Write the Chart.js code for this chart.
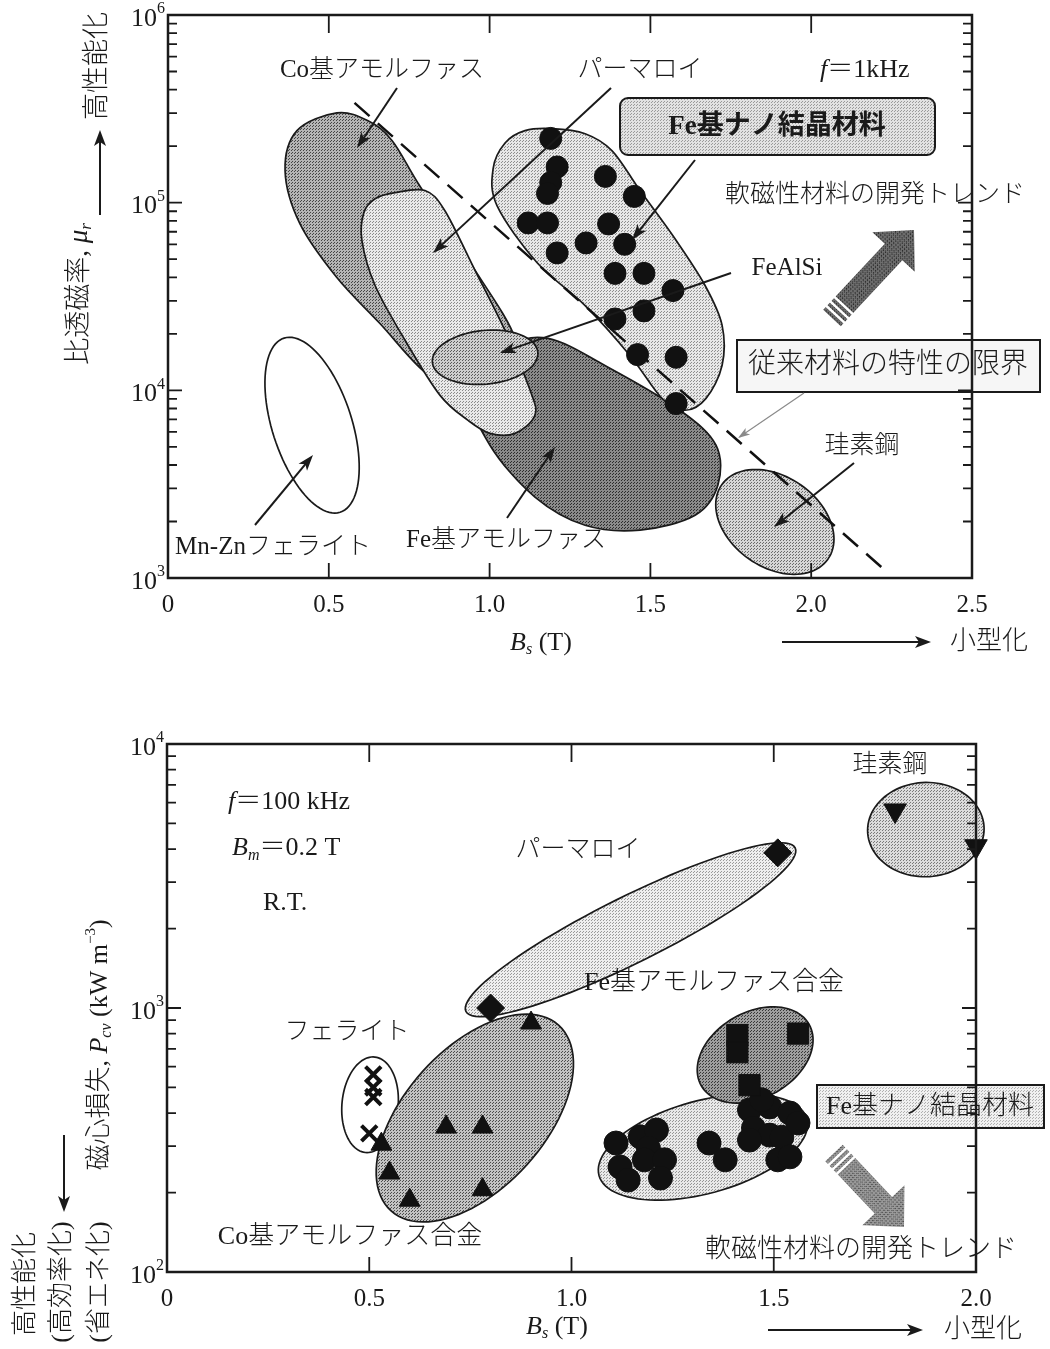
<!DOCTYPE html>
<html lang="ja">
<head>
<meta charset="utf-8">
<title>軟磁性材料の比透磁率と磁心損失</title>
<script src="https://cdn.jsdelivr.net/npm/chart.js@4.4.1/dist/chart.umd.min.js"></script>
<style>
  html, body { margin: 0; padding: 0; background: #fff; }
  #wrap { position: relative; width: 1050px; height: 1349px; overflow: hidden; }
  canvas { position: absolute; left: 0; }
</style>
</head>
<body>
<div id="wrap">
  <canvas id="permChart" width="1050" height="680" style="top:0"></canvas>
  <canvas id="lossChart" width="1050" height="669" style="top:680px"></canvas>
</div>
<script>
// ---- upper chart: Bs vs relative permeability, f = 1 kHz
const permXTicks = [0, 0.5, 1.0, 1.5, 2.0, 2.5];
const permYExponents = [3, 4, 5, 6];

// Fe-based nanocrystalline samples (filled circles)
const nanoBs = [1.19, 1.21, 1.19, 1.18, 1.36, 1.45, 1.12, 1.18, 1.37, 1.30, 1.21, 1.42, 1.39, 1.48, 1.57, 1.48, 1.39, 1.46, 1.58, 1.58];
const nanoMu = [2.2e5, 1.55e5, 1.28e5, 1.12e5, 1.38e5, 1.08e5, 7.8e4, 7.8e4, 7.7e4, 6.1e4, 5.4e4, 6.0e4, 4.2e4, 4.2e4, 3.4e4, 2.65e4, 2.4e4, 1.55e4, 1.5e4, 8.5e3];

// dashed line = limit of conventional materials
const limitBs = [0.58, 2.24];
const limitMu = [3.4e5, 1.06e3];

// material areas, outline points as [Bs, mu]
const coAmorArea = [[0.525, 3.01e5], [0.622, 2.73e5], [0.697, 2.14e5], [0.784, 1.22e5], [0.939, 4.8e4], [1.079, 1.89e4], [1.048, 1.2e4], [0.908, 1.06e4], [0.799, 1.25e4], [0.659, 2.27e4], [0.525, 3.99e4], [0.410, 7.73e4], [0.364, 1.48e5], [0.401, 2.42e5]];
const permalloyArea = [[0.706, 1.13e5], [0.799, 1.16e5], [0.861, 9.06e4], [0.955, 4.35e4], [1.048, 2.08e4], [1.126, 1.0e4], [1.141, 7.36e3], [1.079, 5.9e3], [1.001, 5.9e3], [0.933, 6.92e3], [0.846, 9.4e3], [0.737, 1.85e4], [0.644, 3.62e4], [0.603, 6.28e4], [0.609, 8.85e4], [0.644, 1.05e5]];
const feAmorArea = [[0.939, 1.0e4], [1.048, 1.67e4], [1.182, 1.89e4], [1.374, 1.31e4], [1.592, 7.83e3], [1.704, 5.1e3], [1.710, 3.13e3], [1.639, 2.16e3], [1.468, 1.8e3], [1.297, 1.91e3], [1.141, 2.7e3], [1.001, 5.1e3]];
const nanoArea = [[1.194, 2.48e5], [1.297, 2.33e5], [1.381, 1.89e5], [1.468, 1.16e5], [1.576, 6.44e4], [1.670, 3.62e4], [1.723, 2.22e4], [1.723, 1.36e4], [1.673, 9.06e3], [1.608, 7.83e3], [1.536, 9.06e3], [1.437, 1.53e4], [1.297, 2.83e4], [1.147, 4.8e4], [1.023, 9.64e4], [1.011, 1.52e5], [1.048, 2.08e5], [1.110, 2.42e5]];
// ellipses: [centre, end of long axis, end of short axis]
const feAlSiArea = [[0.986, 1.5e4], [1.150, 1.59e4], [0.992, 1.08e4]];
const siSteelArea = [[1.887, 1.99e3], [2.052, 1.26e3], [1.968, 3.13e3]];
const mnZnArea = [[0.448, 6.52e3], [0.535, 2.24e3], [0.566, 7.55e3]];

// ---- lower chart: Bs vs core loss, f = 100 kHz, Bm = 0.2 T
const lossXTicks = [0, 0.5, 1.0, 1.5, 2.0];
const lossYExponents = [2, 3, 4];

const ferriteBs = [0.51, 0.51, 0.51, 0.50];
const ferriteLoss = [560, 500, 460, 335];
const coAmorBs = [0.53, 0.55, 0.60, 0.69, 0.78, 0.78, 0.90];
const coAmorLoss = [305, 237, 187, 354, 354, 205, 877];
const permalloyBs = [0.80, 1.51];
const permalloyLoss = [1000, 3870];
const siSteelBs = [1.80, 2.00];
const siSteelLoss = [5600, 4100];
const feAmorBs = [1.41, 1.41, 1.56, 1.44];
const feAmorLoss = [790, 680, 800, 510];
const feNanoBs = [1.11, 1.12, 1.14, 1.17, 1.21, 1.19, 1.18, 1.23, 1.22, 1.34, 1.38, 1.44, 1.49, 1.54, 1.45, 1.49, 1.44, 1.52, 1.51, 1.54, 1.56, 1.47];
const feNanoLoss = [308, 250, 223, 325, 345, 295, 266, 266, 227, 308, 266, 411, 422, 400, 351, 330, 316, 324, 266, 273, 367, 449];

const lossPermalloyArea = [[1.146, 1.98e3], [1.553, 4.04e3], [1.182, 1.53e3]];
const lossCoAmorArea = [[0.761, 383], [0.968, 861], [0.890, 255]];
const lossFerriteArea = [[0.502, 430], [0.514, 652], [0.571, 418]];
const lossFeAmorArea = [[1.454, 664], [1.587, 869], [1.507, 481]];
const lossNanoArea = [[1.325, 297], [1.582, 380], [1.355, 201]];
const lossSiSteelArea = [[1.876, 4.74e3], [2.020, 4.77e3], [1.876, 7.15e3]];

// ---- drawing helpers
const INK = '#1a1a1a';
const FONT = "'Liberation Serif', 'Noto Sans CJK JP', serif";
const REF_TOP = {l: 168, t: 15, r: 972, b: 578};
const REF_BOT = {l: 167, t: 744, r: 976, b: 1272};

function font(size, style) { return (style || '300') + ' ' + size + 'px ' + FONT; }

function pts(xs, ys) { return xs.map((v, i) => ({x: v, y: ys[i]})); }

// maps positions measured on the reference page into the chart's own box
function mapper(chart, ref) {
  const a = chart.chartArea;
  return (px, py) => [a.left + (px - ref.l) * a.width / (ref.r - ref.l),
                      a.top + (py - ref.t) * a.height / (ref.b - ref.t)];
}

function rich(ctx, parts, x, y, align) {
  let w = 0;
  for (const p of parts) { ctx.font = font(p.s, p.st); w += ctx.measureText(p.t).width; }
  let cx = align === 'left' ? x : align === 'right' ? x - w : x - w / 2;
  ctx.textAlign = 'left';
  ctx.textBaseline = 'middle';
  for (const p of parts) {
    ctx.font = font(p.s, p.st);
    ctx.fillText(p.t, cx, y + (p.dy || 0));
    cx += ctx.measureText(p.t).width;
  }
}
function label(ctx, text, pos, size, style, align) {
  rich(ctx, [{t: text, s: size, st: style}], pos[0], pos[1], align || 'center');
}
function vlabel(ctx, parts, pos) {
  ctx.save();
  ctx.translate(pos[0], pos[1]);
  ctx.rotate(-Math.PI / 2);
  rich(ctx, parts, 0, 0, 'center');
  ctx.restore();
}

function arrow(ctx, from, to, o) {
  o = o || {};
  const hl = o.hl || 16, hw = o.hw || 5.5, col = o.col || INK;
  const ang = Math.atan2(to[1] - from[1], to[0] - from[0]);
  ctx.save();
  ctx.strokeStyle = col; ctx.fillStyle = col; ctx.lineWidth = o.w || 2;
  ctx.beginPath();
  ctx.moveTo(from[0], from[1]);
  ctx.lineTo(to[0] - Math.cos(ang) * hl * 0.7, to[1] - Math.sin(ang) * hl * 0.7);
  ctx.stroke();
  ctx.translate(to[0], to[1]);
  ctx.rotate(ang);
  ctx.beginPath();
  ctx.moveTo(0, 0); ctx.lineTo(-hl, -hw); ctx.lineTo(-hl * 0.75, 0); ctx.lineTo(-hl, hw);
  ctx.closePath();
  ctx.fill();
  ctx.restore();
}

function stipple(ctx, bg, dot) {
  const tile = document.createElement('canvas');
  tile.width = tile.height = 3;
  const g = tile.getContext('2d');
  g.fillStyle = bg; g.fillRect(0, 0, 3, 3);
  g.fillStyle = dot; g.fillRect(0, 0, 1, 1); g.fillRect(1, 2, 1, 1);
  return ctx.createPattern(tile, 'repeat');
}

// thick striped trend arrow
function bigArrow(ctx, from, to, fill) {
  const ang = Math.atan2(to[1] - from[1], to[0] - from[0]);
  const L = Math.hypot(to[0] - from[0], to[1] - from[1]);
  const sh = 12, hh = 29, hl = 30;
  ctx.save();
  ctx.translate(from[0], from[1]);
  ctx.rotate(ang);
  ctx.beginPath();
  ctx.moveTo(0, -sh); ctx.lineTo(L - hl, -sh); ctx.lineTo(L - hl, -hh); ctx.lineTo(L, 0);
  ctx.lineTo(L - hl, hh); ctx.lineTo(L - hl, sh); ctx.lineTo(0, sh); ctx.closePath();
  ctx.fillStyle = fill; ctx.fill();
  ctx.strokeStyle = '#fff'; ctx.lineWidth = 2.5;
  ctx.beginPath();
  for (const k of [5, 11, 17]) { ctx.moveTo(k, -sh - 1); ctx.lineTo(k, sh + 1); }
  ctx.stroke();
  ctx.restore();
}

function box(ctx, p1, p2, fill, r) {
  ctx.save();
  ctx.beginPath();
  ctx.roundRect(p1[0], p1[1], p2[0] - p1[0], p2[1] - p1[1], r || 0);
  ctx.fillStyle = fill; ctx.fill();
  ctx.strokeStyle = INK; ctx.lineWidth = 2; ctx.stroke();
  ctx.restore();
}

// closed smooth curve through the outline points
function smoothPath(ctx, p) {
  const n = p.length;
  ctx.moveTo(p[0][0], p[0][1]);
  for (let i = 0; i < n; i++) {
    const p0 = p[(i - 1 + n) % n], p1 = p[i], p2 = p[(i + 1) % n], p3 = p[(i + 2) % n];
    ctx.bezierCurveTo(p1[0] + (p2[0] - p0[0]) / 6, p1[1] + (p2[1] - p0[1]) / 6,
                      p2[0] - (p3[0] - p1[0]) / 6, p2[1] - (p3[1] - p1[1]) / 6, p2[0], p2[1]);
  }
  ctx.closePath();
}
function ellipsePath(ctx, c, a, b) {
  const ax = a[0] - c[0], ay = a[1] - c[1], bx = b[0] - c[0], by = b[1] - c[1];
  for (let i = 0; i <= 96; i++) {
    const t = i / 96 * Math.PI * 2;
    const px = c[0] + ax * Math.cos(t) + bx * Math.sin(t);
    const py = c[1] + ay * Math.cos(t) + by * Math.sin(t);
    if (i === 0) ctx.moveTo(px, py); else ctx.lineTo(px, py);
  }
  ctx.closePath();
}

function drawAreas(chart, areas) {
  const {ctx, scales: {x, y}} = chart;
  const toPx = p => [x.getPixelForValue(p[0]), y.getPixelForValue(p[1])];
  ctx.save();
  for (const ar of areas) {
    ctx.beginPath();
    if (ar.ellipse) { const [c, a, b] = ar.ellipse.map(toPx); ellipsePath(ctx, c, a, b); }
    else smoothPath(ctx, ar.outline.map(toPx));
    ctx.fillStyle = ar.bg ? stipple(ctx, ar.bg, ar.dot) : '#fff';
    ctx.fill();
    ctx.lineWidth = 1.7; ctx.strokeStyle = INK;
    ctx.stroke();
  }
  ctx.restore();
}

function drawAxes(chart, xTicks, yExps) {
  const {ctx, chartArea: a, scales: {x, y}} = chart;
  ctx.save();
  ctx.strokeStyle = INK; ctx.lineWidth = 2.5;
  ctx.strokeRect(a.left, a.top, a.width, a.height);
  ctx.lineWidth = 1.8;
  ctx.beginPath();
  for (const v of xTicks) {
    if (v <= x.min || v >= x.max) continue;
    const px = x.getPixelForValue(v);
    ctx.moveTo(px, a.bottom); ctx.lineTo(px, a.bottom - 15);
    ctx.moveTo(px, a.top); ctx.lineTo(px, a.top + 18);
  }
  for (let i = 0; i < yExps.length - 1; i++) {
    for (let m = 1; m <= 9; m++) {
      const py = y.getPixelForValue(m * Math.pow(10, yExps[i]));
      const len = m === 1 ? 14 : 9;
      ctx.moveTo(a.left, py); ctx.lineTo(a.left + len, py);
      ctx.moveTo(a.right, py); ctx.lineTo(a.right - len, py);
    }
  }
  ctx.stroke();
  ctx.fillStyle = INK;
  for (const v of xTicks) {
    label(ctx, v === 0 ? '0' : v.toFixed(1), [x.getPixelForValue(v), a.bottom + 27], 25);
  }
  for (const e of yExps) {
    rich(ctx, [{t: '10', s: 26}, {t: String(e), s: 16, dy: -10}],
         a.left - 3, y.getPixelForValue(Math.pow(10, e)) + 4, 'right');
  }
  ctx.restore();
}

// ---- upper chart decorations
const permDecor = {
  id: 'permDecor',
  beforeDatasetsDraw(chart) {
    drawAreas(chart, [
      {outline: coAmorArea, bg: '#b4b4b4', dot: '#444444'},
      {outline: feAmorArea, bg: '#8a8a8a', dot: '#2c2c2c'},
      {outline: permalloyArea, bg: '#e9e9e9', dot: '#8a8a8a'},
      {ellipse: feAlSiArea, bg: '#cdcdcd', dot: '#5a5a5a'},
      {outline: nanoArea, bg: '#e7e7e7', dot: '#8e8e8e'},
      {ellipse: siSteelArea, bg: '#d6d6d6', dot: '#6a6a6a'},
      {ellipse: mnZnArea}
    ]);
  },
  afterDatasetsDraw(chart) {
    const ctx = chart.ctx, P = mapper(chart, REF_TOP);
    ctx.save();
    ctx.fillStyle = INK;
    label(ctx, 'Co基アモルファス', P(382, 70), 25);
    arrow(ctx, P(397, 88), P(357, 148));
    label(ctx, 'パーマロイ', P(640, 70), 25);
    arrow(ctx, P(611, 88), P(433, 253));
    rich(ctx, [{t: 'f', s: 26, st: 'italic'}, {t: '＝1kHz', s: 26}], ...P(820, 70), 'left');

    box(ctx, P(620, 98), P(935, 155), stipple(ctx, '#e2e2e2', '#9a9a9a'), 8);
    ctx.fillStyle = INK;
    label(ctx, 'Fe基ナノ結晶材料', P(777, 127), 27, 'bold');
    arrow(ctx, P(695, 160), P(632, 240));

    label(ctx, '軟磁性材料の開発トレンド', P(875, 195), 25);
    bigArrow(ctx, P(832, 318), P(914, 230), stipple(ctx, '#6e6e6e', '#262626'));

    ctx.fillStyle = INK;
    label(ctx, 'FeAlSi', P(787, 268), 25);
    arrow(ctx, P(731, 273), P(500, 353));

    box(ctx, P(737, 340), P(1040, 392), '#f6f6f6', 0);
    ctx.fillStyle = INK;
    label(ctx, '従来材料の特性の限界', P(888, 366), 28);
    arrow(ctx, P(804, 393), P(738, 438), {w: 1.2, col: '#8a8a8a', hl: 12, hw: 4});

    label(ctx, '珪素鋼', P(862, 446), 25);
    arrow(ctx, P(854, 463), P(774, 527));
    label(ctx, 'Fe基アモルファス', P(506, 540), 25);
    arrow(ctx, P(507, 518), P(555, 447));
    label(ctx, 'Mn-Znフェライト', P(273, 547), 25);
    arrow(ctx, P(255, 525), P(313, 455));
    ctx.restore();

    drawAxes(chart, permXTicks, permYExponents);

    ctx.save();
    ctx.fillStyle = INK;
    vlabel(ctx, [{t: '比透磁率, ', s: 27}, {t: 'μ', s: 27, st: 'italic'}, {t: 'r', s: 17, st: 'italic', dy: 7}], P(80, 294));
    vlabel(ctx, [{t: '高性能化', s: 27}], P(98, 66));
    arrow(ctx, P(100, 215), P(100, 130), {hl: 16, hw: 6});
    rich(ctx, [{t: 'B', s: 26, st: 'italic'}, {t: 's', s: 16, st: 'italic', dy: 7}, {t: ' (T)', s: 26}], ...P(541, 643), 'center');
    arrow(ctx, P(782, 642), P(931, 642), {hl: 16, hw: 6});
    label(ctx, '小型化', P(950, 642), 26, null, 'left');
    ctx.restore();
  }
};

// ---- lower chart decorations
const lossDecor = {
  id: 'lossDecor',
  beforeDatasetsDraw(chart) {
    drawAreas(chart, [
      {ellipse: lossPermalloyArea, bg: '#eeeeee', dot: '#9a9a9a'},
      {ellipse: lossFerriteArea},
      {ellipse: lossCoAmorArea, bg: '#c2c2c2', dot: '#4c4c4c'},
      {ellipse: lossNanoArea, bg: '#e8e8e8', dot: '#959595'},
      {ellipse: lossFeAmorArea, bg: '#9e9e9e', dot: '#383838'},
      {ellipse: lossSiSteelArea, bg: '#dcdcdc', dot: '#7a7a7a'}
    ]);
  },
  afterDatasetsDraw(chart) {
    const ctx = chart.ctx, P = mapper(chart, REF_BOT);
    ctx.save();
    ctx.fillStyle = INK;
    rich(ctx, [{t: 'f', s: 26, st: 'italic'}, {t: '＝100 kHz', s: 26}], ...P(228, 802), 'left');
    rich(ctx, [{t: 'B', s: 26, st: 'italic'}, {t: 'm', s: 16, st: 'italic', dy: 8}, {t: '＝0.2 T', s: 26}], ...P(232, 848), 'left');
    label(ctx, 'R.T.', P(263, 903), 26, null, 'left');
    label(ctx, 'パーマロイ', P(578, 850), 25);
    label(ctx, '珪素鋼', P(890, 765), 25);
    label(ctx, 'Fe基アモルファス合金', P(714, 983), 26);
    label(ctx, 'フェライト', P(347, 1032), 25);
    label(ctx, 'Co基アモルファス合金', P(350, 1237), 26);

    box(ctx, P(817, 1085), P(1044, 1128), stipple(ctx, '#f0f0f0', '#b0b0b0'), 0);
    ctx.fillStyle = INK;
    label(ctx, 'Fe基ナノ結晶材料', P(930, 1107), 26);
    bigArrow(ctx, P(834, 1153), P(904, 1227), stipple(ctx, '#9a9a9a', '#4a4a4a'));
    ctx.fillStyle = INK;
    label(ctx, '軟磁性材料の開発トレンド', P(861, 1250), 26);
    ctx.restore();

    drawAxes(chart, lossXTicks, lossYExponents);

    ctx.save();
    ctx.fillStyle = INK;
    vlabel(ctx, [{t: '磁心損失, ', s: 26}, {t: 'P', s: 26, st: 'italic'}, {t: 'cv', s: 16, st: 'italic', dy: 7},
                 {t: ' (kW m', s: 26}, {t: '−3', s: 15, dy: -9}, {t: ')', s: 26}], P(100, 1045));
    vlabel(ctx, [{t: '(省エネ化)', s: 26}], P(100, 1282));
    vlabel(ctx, [{t: '(高効率化)', s: 26}], P(62, 1282));
    vlabel(ctx, [{t: '高性能化', s: 26}], P(26, 1284));
    arrow(ctx, P(64, 1135), P(64, 1212), {hl: 16, hw: 6});
    rich(ctx, [{t: 'B', s: 26, st: 'italic'}, {t: 's', s: 16, st: 'italic', dy: 7}, {t: ' (T)', s: 26}], ...P(557, 1327), 'center');
    arrow(ctx, P(768, 1330), P(923, 1330), {hl: 16, hw: 6});
    label(ctx, '小型化', P(944, 1330), 26, null, 'left');
    ctx.restore();
  }
};

const common = {
  responsive: false,
  animation: false,
  events: [],
  plugins: {legend: {display: false}, tooltip: {enabled: false}}
};

new Chart(document.getElementById('permChart'), {
  type: 'scatter',
  data: {
    datasets: [
      {label: 'Fe基ナノ結晶材料', data: pts(nanoBs, nanoMu), pointStyle: 'circle', pointRadius: 11,
       backgroundColor: '#111', borderColor: '#111', order: 1},
      {label: '従来材料の特性の限界', data: pts(limitBs, limitMu), showLine: true, pointRadius: 0,
       borderColor: '#111', borderWidth: 2.5, borderDash: [20, 11], order: 2}
    ]
  },
  options: Object.assign({}, common, {
    layout: {padding: {left: 168, top: 15, right: 78, bottom: 102}},
    scales: {
      x: {type: 'linear', min: 0, max: 2.5, display: false},
      y: {type: 'logarithmic', min: 1e3, max: 1e6, display: false}
    }
  }),
  plugins: [permDecor]
});

new Chart(document.getElementById('lossChart'), {
  type: 'scatter',
  data: {
    datasets: [
      {label: 'フェライト', data: pts(ferriteBs, ferriteLoss), pointStyle: 'crossRot', pointRadius: 11,
       borderWidth: 4, borderColor: '#111', backgroundColor: '#111'},
      {label: 'Co基アモルファス合金', data: pts(coAmorBs, coAmorLoss), pointStyle: 'triangle', pointRadius: 12,
       borderColor: '#111', backgroundColor: '#111'},
      {label: 'パーマロイ', data: pts(permalloyBs, permalloyLoss), pointStyle: 'rectRot', pointRadius: 14,
       borderColor: '#111', backgroundColor: '#111'},
      {label: '珪素鋼', data: pts(siSteelBs, siSteelLoss), pointStyle: 'triangle', rotation: 180, pointRadius: 13,
       borderColor: '#111', backgroundColor: '#111', clip: false},
      {label: 'Fe基アモルファス合金', data: pts(feAmorBs, feAmorLoss), pointStyle: 'rect', pointRadius: 15,
       borderColor: '#111', backgroundColor: '#111'},
      {label: 'Fe基ナノ結晶材料', data: pts(feNanoBs, feNanoLoss), pointStyle: 'circle', pointRadius: 12,
       borderColor: '#111', backgroundColor: '#111'}
    ]
  },
  options: Object.assign({}, common, {
    layout: {padding: {left: 167, top: 64, right: 74, bottom: 77}},
    scales: {
      x: {type: 'linear', min: 0, max: 2.0, display: false},
      y: {type: 'logarithmic', min: 1e2, max: 1e4, display: false}
    }
  }),
  plugins: [lossDecor]
});
</script>
</body>
</html>
